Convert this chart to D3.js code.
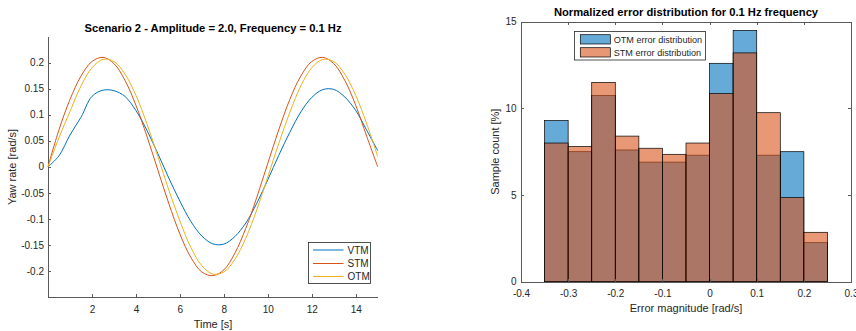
<!DOCTYPE html>
<html>
<head>
<meta charset="utf-8">
<script src="https://cdn.jsdelivr.net/npm/d3@7"></script>
<style>
  body { margin: 0; background: #fff; }
  svg { display: block; font-family: "Liberation Sans", Arial, sans-serif; }
</style>
</head>
<body>
<div id="chart"></div>
<script>
const timeS = [0, 0.5, 1, 1.5, 2, 2.5, 3, 3.5, 4, 4.5, 5, 5.5, 6, 6.5, 7, 7.5,
               8, 8.5, 9, 9.5, 10, 10.5, 11, 11.5, 12, 12.5, 13, 13.5, 14, 14.5, 15];
const vtm = [0, 0.021, 0.061, 0.095, 0.135, 0.147, 0.146, 0.135, 0.108, 0.070, 0.025,
             -0.022, -0.066, -0.105, -0.133, -0.148, -0.1485, -0.134, -0.108, -0.070, -0.025,
             0.022, 0.066, 0.105, 0.133, 0.148, 0.1485, 0.134, 0.108, 0.070, 0.031];
const stm = [0, 0.071, 0.129, 0.174, 0.202, 0.210, 0.198, 0.166, 0.118, 0.0585, -0.0066,
             -0.071, -0.129, -0.174, -0.202, -0.209, -0.198, -0.166, -0.118, -0.0585, 0.0066,
             0.071, 0.129, 0.174, 0.202, 0.210, 0.198, 0.166, 0.118, 0.0585, 0];
const otm = [0, 0.056, 0.106, 0.155, 0.190, 0.206, 0.202, 0.178, 0.137, 0.0825, 0.0195,
             -0.045, -0.104, -0.155, -0.190, -0.206, -0.202, -0.178, -0.137, -0.0825, -0.0195,
             0.045, 0.104, 0.155, 0.190, 0.206, 0.202, 0.178, 0.137, 0.0825, 0.0195];
const lineNames = ["VTM", "STM", "OTM"];
const lineColors = ["#0072BD", "#D95319", "#EDB120"];
const yawTicks = [-0.2, -0.15, -0.1, -0.05, 0, 0.05, 0.1, 0.15, 0.2];
const timeTicks = [2, 4, 6, 8, 10, 12, 14];

// Right panel - normalized error histogram (percent per bin)
const binEdges = [-0.35, -0.3, -0.25, -0.2, -0.15, -0.1, -0.05, 0, 0.05, 0.1, 0.15, 0.2, 0.25];
const otmErrPct = [9.3, 7.5, 10.75, 7.6, 6.9, 6.9, 7.3, 12.6, 14.5, 7.3, 7.5, 2.25];
const stmErrPct = [8.0, 7.8, 11.5, 8.4, 7.7, 7.35, 8.0, 10.85, 13.2, 9.75, 4.85, 2.85];
const histNames = ["OTM error distribution", "STM error distribution"];
const histColors = ["#0072BD", "#D95319"];
const errTicks = [-0.4, -0.3, -0.2, -0.1, 0, 0.1, 0.2, 0.3];
const countTicks = [0, 5, 10, 15];

const fmt = d => String(+d.toFixed(2));
const axisColor = "#5a5a5a";
const textColor = "#262626";

const svg = d3.select("#chart").append("svg")
    .attr("width", 856)
    .attr("height", 331);

function styleAxis(g, size) {
    g.select(".domain").attr("stroke", axisColor).attr("shape-rendering", "crispEdges");
    g.selectAll(".tick line").attr("stroke", axisColor).attr("shape-rendering", "crispEdges");
    g.selectAll(".tick text").attr("fill", textColor).style("font-size", size + "px")
        .style("font-family", '"Liberation Sans", Arial, sans-serif');
}

// ---------- left: time series ----------
const xL = d3.scaleLinear().domain([0, 15]).range([48, 377.7]);
const yL = d3.scaleLinear().domain([-0.25, 0.25]).range([297, 36.5]);

const gxL = svg.append("g")
    .attr("transform", "translate(0,297)")
    .call(d3.axisBottom(xL).tickValues(timeTicks).tickSize(-3).tickSizeOuter(0).tickPadding(9).tickFormat(fmt));
styleAxis(gxL, 10);

const gyL = svg.append("g")
    .attr("transform", "translate(48,0)")
    .call(d3.axisLeft(yL).tickValues(yawTicks).tickSize(-3).tickSizeOuter(0).tickPadding(4).tickFormat(fmt));
styleAxis(gyL, 10);

const line = d3.line()
    .x((d, i) => xL(timeS[i]))
    .y(d => yL(d))
    .curve(d3.curveCatmullRom.alpha(0.5));

[vtm, stm, otm].forEach((s, i) => {
    svg.append("path")
        .datum(s)
        .attr("d", line)
        .attr("fill", "none")
        .attr("stroke", lineColors[i])
        .attr("stroke-width", 1);
});

svg.append("text")
    .attr("x", 213).attr("y", 31.5)
    .attr("text-anchor", "middle")
    .style("font-size", "11.2px").style("font-weight", "bold")
    .attr("fill", "#000")
    .text("Scenario 2 - Amplitude = 2.0, Frequency = 0.1 Hz");

svg.append("text")
    .attr("x", 213).attr("y", 328)
    .attr("text-anchor", "middle")
    .style("font-size", "11px")
    .attr("fill", textColor)
    .text("Time [s]");

svg.append("text")
    .attr("transform", "translate(15.5,167) rotate(-90)")
    .attr("text-anchor", "middle")
    .style("font-size", "11px")
    .attr("fill", textColor)
    .text("Yaw rate [rad/s]");

// legend
const legL = svg.append("g");
legL.append("rect")
    .attr("x", 308.5).attr("y", 242.5).attr("width", 62).attr("height", 41)
    .attr("fill", "#fff").attr("stroke", "#262626").attr("stroke-width", 0.8);
lineNames.forEach((n, i) => {
    const yy = [250, 263.5, 276.5][i];
    legL.append("line")
        .attr("x1", 313).attr("x2", 343.5).attr("y1", yy).attr("y2", yy)
        .attr("stroke", lineColors[i]).attr("stroke-width", 1);
    legL.append("text")
        .attr("x", 347.5).attr("y", yy + 3.5)
        .style("font-size", "10px")
        .attr("fill", textColor)
        .text(n);
});

// ---------- right: histogram ----------
const xR = d3.scaleLinear().domain([-0.4, 0.3]).range([521, 851]);
const yR = d3.scaleLinear().domain([0, 15]).range([281.7, 21.7]);

[otmErrPct, stmErrPct].forEach((vals, k) => {
    svg.append("g").selectAll("rect")
        .data(vals)
        .join("rect")
        .attr("x", (d, i) => xR(binEdges[i]))
        .attr("width", (d, i) => xR(binEdges[i + 1]) - xR(binEdges[i]))
        .attr("y", d => yR(d))
        .attr("height", d => yR(0) - yR(d))
        .attr("fill", histColors[k])
        .attr("fill-opacity", 0.6)
        .attr("stroke", "#000")
        .attr("stroke-width", 0.7);
});

const gxR = svg.append("g")
    .attr("transform", "translate(0,281.7)")
    .call(d3.axisBottom(xR).tickValues(errTicks).tickSize(-3).tickSizeOuter(0).tickPadding(8).tickFormat(fmt));
styleAxis(gxR, 10);
const gyR = svg.append("g")
    .attr("transform", "translate(521,0)")
    .call(d3.axisLeft(yR).tickValues(countTicks).tickSize(-3).tickSizeOuter(0).tickPadding(4.5).tickFormat(fmt));
styleAxis(gyR, 10);
const gtR = svg.append("g")
    .attr("transform", "translate(0,21.7)")
    .call(d3.axisTop(xR).tickValues(errTicks).tickSize(-3).tickSizeOuter(0).tickFormat(""));
styleAxis(gtR, 10);
const grR = svg.append("g")
    .attr("transform", "translate(851,0)")
    .call(d3.axisRight(yR).tickValues(countTicks).tickSize(-3).tickSizeOuter(0).tickFormat(""));
styleAxis(grR, 10);

svg.append("text")
    .attr("x", 686).attr("y", 15.5)
    .attr("text-anchor", "middle")
    .style("font-size", "11.2px").style("font-weight", "bold")
    .attr("fill", "#000")
    .text("Normalized error distribution for 0.1 Hz frequency");

svg.append("text")
    .attr("x", 686).attr("y", 312)
    .attr("text-anchor", "middle")
    .style("font-size", "11px")
    .attr("fill", textColor)
    .text("Error magnitude [rad/s]");

svg.append("text")
    .attr("transform", "translate(499,151.7) rotate(-90)")
    .attr("text-anchor", "middle")
    .style("font-size", "11px")
    .attr("fill", textColor)
    .text("Sample count [%]");

const legR = svg.append("g");
legR.append("rect")
    .attr("x", 574.5).attr("y", 31.5).attr("width", 131).attr("height", 28.5)
    .attr("fill", "#fff").attr("stroke", "#262626").attr("stroke-width", 0.8);
histNames.forEach((n, i) => {
    const yy = [34.7, 47.7][i];
    legR.append("rect")
        .attr("x", 580.3).attr("y", yy).attr("width", 30).attr("height", 9.3)
        .attr("fill", histColors[i]).attr("fill-opacity", 0.6)
        .attr("stroke", "#000").attr("stroke-width", 0.7);
    legR.append("text")
        .attr("x", 613.7).attr("y", yy + 8)
        .style("font-size", "9.1px")
        .attr("fill", textColor)
        .text(n);
});
</script>
</body>
</html>
